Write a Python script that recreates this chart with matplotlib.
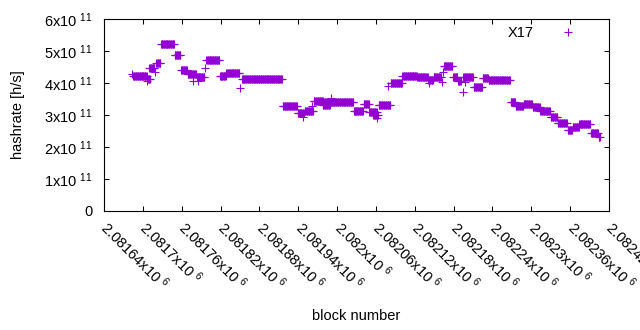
"""Render per-block X17 hashrate estimates as a gnuplot-style scatter PNG.

Each run below is a stretch of consecutive blocks that share one hashrate
estimate; a run with start == end is a single outlying block.
"""

import matplotlib
matplotlib.use("Agg")  # headless backend
import matplotlib.pyplot as plt
from matplotlib.ticker import FuncFormatter
import numpy as np

# Block runs (inclusive) and their hashrate in units of 1e11 h/s.
run_start = [2081683, 2081685, 2081707, 2081706, 2081710, 2081719, 2081721,
             2081728, 2081749, 2081759, 2081769, 2081777, 2081785, 2081783,
             2081796, 2081798, 2081819, 2081829, 2081850, 2081853, 2081916,
             2081939, 2081950, 2081961, 2081947, 2081964, 2081979, 2081978,
             2081991, 2082026, 2082041, 2082050, 2082056, 2082062, 2082064,
             2082079, 2082083, 2082101, 2082124, 2082141, 2082142, 2082149,
             2082162, 2082163, 2082165, 2082179, 2082187, 2082194, 2082195,
             2082198, 2082211, 2082225, 2082234, 2082268, 2082276, 2082288,
             2082302, 2082314, 2082330, 2082341, 2082356, 2082364, 2082374,
             2082392, 2082404]
run_end = [2081683, 2081706, 2081711, 2081706, 2081718, 2081719, 2081727,
           2081748, 2081758, 2081768, 2081782, 2081777, 2081785, 2081795,
           2081796, 2081818, 2081828, 2081849, 2081850, 2081915, 2081938,
           2081949, 2081963, 2081961, 2081947, 2081978, 2082025, 2081989,
           2081991, 2082040, 2082049, 2082061, 2082063, 2082062, 2082082,
           2082079, 2082100, 2082123, 2082140, 2082148, 2082142, 2082161,
           2082162, 2082163, 2082178, 2082186, 2082191, 2082194, 2082210,
           2082198, 2082224, 2082233, 2082267, 2082275, 2082287, 2082301,
           2082313, 2082329, 2082340, 2082355, 2082363, 2082373, 2082391,
           2082403, 2082406]
run_rate = [4.28, 4.23, 4.13, 4.06, 4.46, 4.34, 4.63,
            5.21, 4.87, 4.40, 4.28, 4.06, 4.06, 4.20,
            4.47, 4.71, 4.23, 4.30, 3.83, 4.13, 3.29,
            3.07, 3.13, 3.28, 2.94, 3.45, 3.39, 3.31,
            3.53, 3.13, 3.33, 3.09, 3.00, 2.90, 3.30,
            3.91, 3.99, 4.22, 4.18, 4.09, 4.00, 4.18,
            4.03, 4.34, 4.53, 4.20, 4.06, 3.71, 4.18,
            4.03, 3.87, 4.15, 4.08, 3.41, 3.29, 3.33,
            3.24, 3.12, 2.93, 2.74, 2.53, 2.61, 2.71,
            2.44, 2.32]

x_range = (2081640, 2082420)
x_tick_step = 60
y_ticks = [0, 1e11, 2e11, 3e11, 4e11, 5e11, 6e11]

PURPLE = "#9400D3"  # gnuplot's first line colour
W, H = 640, 330
AX_L, AX_R, AX_T, AX_B = 104, 609, 19, 210.8  # plot frame, pixels

plt.rcParams["font.family"] = ["Liberation Sans", "DejaVu Sans"]
plt.rcParams["mathtext.default"] = "regular"


def expand_runs(starts, ends, rates):
    """One point per block for every run."""
    xs, ys = [], []
    for s, e, r in zip(starts, ends, rates):
        n = e - s + 1
        xs.append(np.arange(s, e + 1))
        ys.append(np.full(n, r * 1e11))
    return np.concatenate(xs), np.concatenate(ys)


def sci_label(value, exponent):
    if value == 0:
        return "0"
    return f"{value / 10 ** exponent:g}x10 $^{{{exponent}}}$"


blocks, rates = expand_runs(run_start, run_end, run_rate)

ax_w, ax_h = AX_R - AX_L, AX_B - AX_T
fig = plt.figure(figsize=(W / 100, H / 100), dpi=100)
ax = fig.add_axes([AX_L / W, 1 - AX_B / H, ax_w / W, ax_h / H])

ax.plot(blocks, rates, linestyle="none", marker="+", markersize=5.2,
        markeredgewidth=0.8, color=PURPLE, label="X17")

ax.set_xlim(*x_range)
ax.set_ylim(0, 6e11)
ax.set_xticks(np.arange(x_range[0], x_range[1] + 1, x_tick_step))
ax.set_yticks(y_ticks)
ax.xaxis.set_major_formatter(FuncFormatter(lambda v, _: sci_label(v, 6)))
ax.yaxis.set_major_formatter(FuncFormatter(lambda v, _: sci_label(v, 11)))

ax.tick_params(direction="in", length=3.6, width=0.75, top=True, right=True,
               labelsize=10.5, colors="black")
ax.tick_params(axis="y", pad=8)
ax.tick_params(axis="x", pad=10)
for lab in ax.get_xticklabels():
    lab.set_rotation(-45)
    lab.set_rotation_mode("anchor")
    lab.set_ha("left")
    lab.set_va("center")
for sp in ax.spines.values():
    sp.set_linewidth(0.8)

ax.set_ylabel("hashrate [h/s]", fontsize=10.5)
ax.yaxis.set_label_coords(-(AX_L - 25) / ax_w, 0.5)
ax.set_xlabel("block number", fontsize=10.5)
ax.xaxis.set_label_coords(0.5, -(309 - AX_B) / ax_h)

ax.legend(loc="upper right", frameon=False, markerfirst=False, fontsize=10.5,
          borderpad=0, borderaxespad=0, handlelength=2.0, handletextpad=1.35,
          bbox_to_anchor=(1 - 26 / ax_w, 1 - 7 / ax_h))

fig.savefig("out.png", dpi=100)
plt.close(fig)
